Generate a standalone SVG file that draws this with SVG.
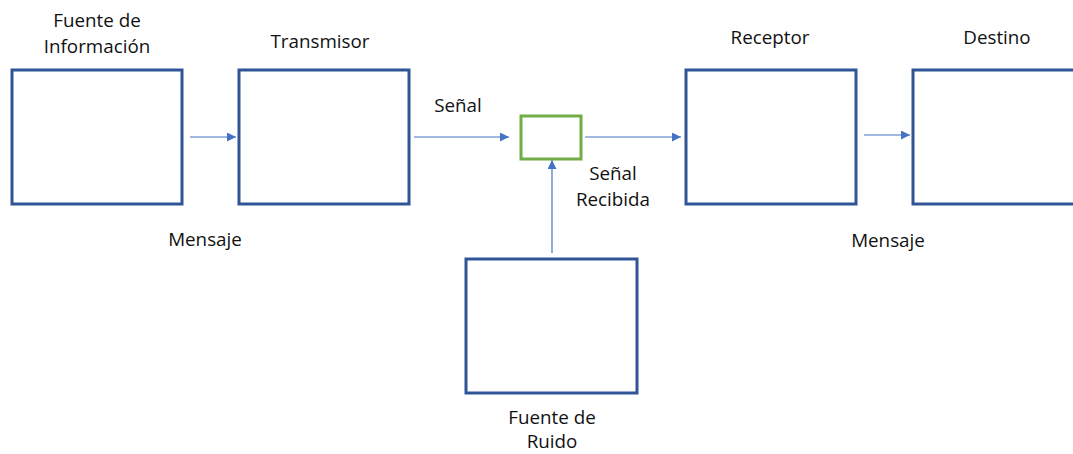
<svg xmlns="http://www.w3.org/2000/svg" width="1073" height="454" viewBox="0 0 1073 454">
<defs>
<style>
.box{fill:#fff;stroke:#2F5597;stroke-width:3}
.green{fill:#fff;stroke:#70AD47;stroke-width:3}
.con{stroke:#4472C4;stroke-width:1.2;fill:none;marker-end:url(#ah)}
text{font-family:"Open Sans","Liberation Sans",sans-serif;font-size:18.8px;fill:#111;text-anchor:middle}
</style>
<marker id="ah" viewBox="0 0 10 10" refX="10" refY="5" markerWidth="9" markerHeight="9" markerUnits="userSpaceOnUse" orient="auto">
<path d="M0,0 L10,5 L0,10 z" fill="#4472C4"/>
</marker>
</defs>
<rect width="1073" height="454" fill="#fff"/>
<g id="connectors">
<line class="con" x1="190" y1="137" x2="236" y2="137"/>
<line class="con" x1="414" y1="137" x2="509" y2="137"/>
<line class="con" x1="585" y1="137" x2="681" y2="137"/>
<line class="con" x1="552" y1="253" x2="552" y2="160"/>
<line class="con" x1="864" y1="135" x2="910" y2="135"/>
</g>
<g id="fuente-informacion">
<rect class="box" x="12" y="70" width="170" height="134"/>
<text x="97" y="27">Fuente de</text>
<text x="97" y="53">Información</text>
</g>
<g id="transmisor">
<rect class="box" x="239" y="70" width="170" height="134"/>
<text x="320" y="48">Transmisor</text>
</g>
<g id="canal">
<rect class="green" x="521" y="116" width="60" height="43"/>
</g>
<g id="receptor">
<rect class="box" x="686" y="70" width="170" height="134"/>
<text x="770" y="44">Receptor</text>
</g>
<g id="destino">
<rect class="box" x="913" y="70" width="175" height="134"/>
<text x="997" y="44">Destino</text>
</g>
<g id="fuente-ruido">
<rect class="box" x="466" y="259" width="171" height="134"/>
<text x="552" y="424">Fuente de</text>
<text x="552" y="448">Ruido</text>
</g>
<g id="labels">
<text x="458" y="112">Señal</text>
<text x="613" y="180">Señal</text>
<text x="613" y="206">Recibida</text>
<text x="205" y="246">Mensaje</text>
<text x="888" y="247">Mensaje</text>
</g>
</svg>
